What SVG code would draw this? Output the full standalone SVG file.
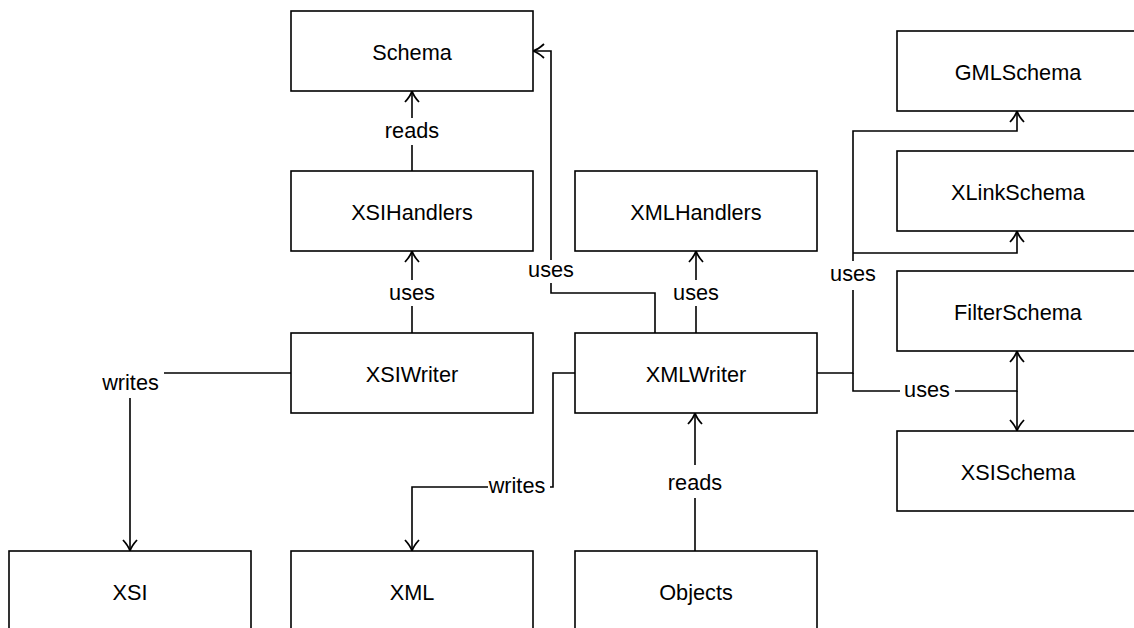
<svg xmlns="http://www.w3.org/2000/svg" width="1134" height="628" viewBox="0 0 1134 628">
<style>
.box{fill:#fff;stroke:#000;stroke-width:1.6}
.t{font-family:"Liberation Sans",Arial,sans-serif;font-size:21.7px;fill:#000;text-anchor:middle}
.e{fill:none;stroke:#000;stroke-width:1.6}
.lb{fill:#fff}
</style>
<defs>
<marker id="arr" markerUnits="userSpaceOnUse" markerWidth="20" markerHeight="20" viewBox="-12 -10 14 20" refX="0" refY="0" orient="auto">
<path d="M-11,-7 Q-5,-1.5 0,0 Q-5,1.5 -11,7" fill="none" stroke="#000" stroke-width="1.8"/>
</marker>
</defs>
<rect width="1134" height="628" fill="#fff"/>
<g id="connectors">
<path class="e" d="M412,171 V91" marker-end="url(#arr)"/>
<path class="e" d="M412,333 V251" marker-end="url(#arr)"/>
<path class="e" d="M696,333 V251" marker-end="url(#arr)"/>
<path class="e" d="M655,333 V293 H551 V51 H533" marker-end="url(#arr)"/>
<path class="e" d="M291,373 H130 V551" marker-end="url(#arr)"/>
<path class="e" d="M575,373 H553 V487 H412 V551" marker-end="url(#arr)"/>
<path class="e" d="M695,551 V413" marker-end="url(#arr)"/>
<path class="e" d="M817,373 H853 V131 H1017 V111" marker-end="url(#arr)"/>
<path class="e" d="M853,253 H1017 V231" marker-end="url(#arr)"/>
<path class="e" d="M853,373 V391 H1017 V351" marker-end="url(#arr)"/>
<path class="e" d="M1017,391 V431" marker-end="url(#arr)"/>
<g id="edge-labels">
<rect class="lb" x="386" y="118" width="52" height="27"/>
<text class="t" x="412" y="138">reads</text>
<rect class="lb" x="388" y="280" width="48" height="26"/>
<text class="t" x="412" y="300">uses</text>
<rect class="lb" x="672" y="280" width="48" height="26"/>
<text class="t" x="696" y="300">uses</text>
<rect class="lb" x="527" y="260" width="48" height="23"/>
<text class="t" x="551" y="277">uses</text>
<rect class="lb" x="829" y="261" width="48" height="29"/>
<text class="t" x="853" y="281">uses</text>
<rect class="lb" x="900" y="378" width="55" height="26"/>
<text class="t" x="927" y="397">uses</text>
<rect class="lb" x="97" y="368" width="67" height="30"/>
<text class="t" x="130.5" y="390">writes</text>
<rect class="lb" x="488" y="472" width="62" height="28"/>
<text class="t" x="517" y="493">writes</text>
<rect class="lb" x="666" y="465" width="58" height="33"/>
<text class="t" x="695" y="490">reads</text>
</g>
</g>
<g id="Schema"><rect class="box" x="291" y="11" width="242" height="80"/><text class="t" x="412" y="60">Schema</text></g>
<g id="XSIHandlers"><rect class="box" x="291" y="171" width="242" height="80"/><text class="t" x="412" y="220">XSIHandlers</text></g>
<g id="XMLHandlers"><rect class="box" x="575" y="171" width="242" height="80"/><text class="t" x="696" y="220">XMLHandlers</text></g>
<g id="XSIWriter"><rect class="box" x="291" y="333" width="242" height="80"/><text class="t" x="412" y="382">XSIWriter</text></g>
<g id="XMLWriter"><rect class="box" x="575" y="333" width="242" height="80"/><text class="t" x="696" y="382">XMLWriter</text></g>
<g id="XSI"><rect class="box" x="9" y="551" width="242" height="80"/><text class="t" x="130" y="600">XSI</text></g>
<g id="XML"><rect class="box" x="291" y="551" width="242" height="80"/><text class="t" x="412" y="600">XML</text></g>
<g id="Objects"><rect class="box" x="575" y="551" width="242" height="80"/><text class="t" x="696" y="600">Objects</text></g>
<g id="GMLSchema"><rect class="box" x="897" y="31" width="242" height="80"/><text class="t" x="1018" y="80">GMLSchema</text></g>
<g id="XLinkSchema"><rect class="box" x="897" y="151" width="242" height="80"/><text class="t" x="1018" y="200">XLinkSchema</text></g>
<g id="FilterSchema"><rect class="box" x="897" y="271" width="242" height="80"/><text class="t" x="1018" y="320">FilterSchema</text></g>
<g id="XSISchema"><rect class="box" x="897" y="431" width="242" height="80"/><text class="t" x="1018" y="480">XSISchema</text></g>
</svg>
